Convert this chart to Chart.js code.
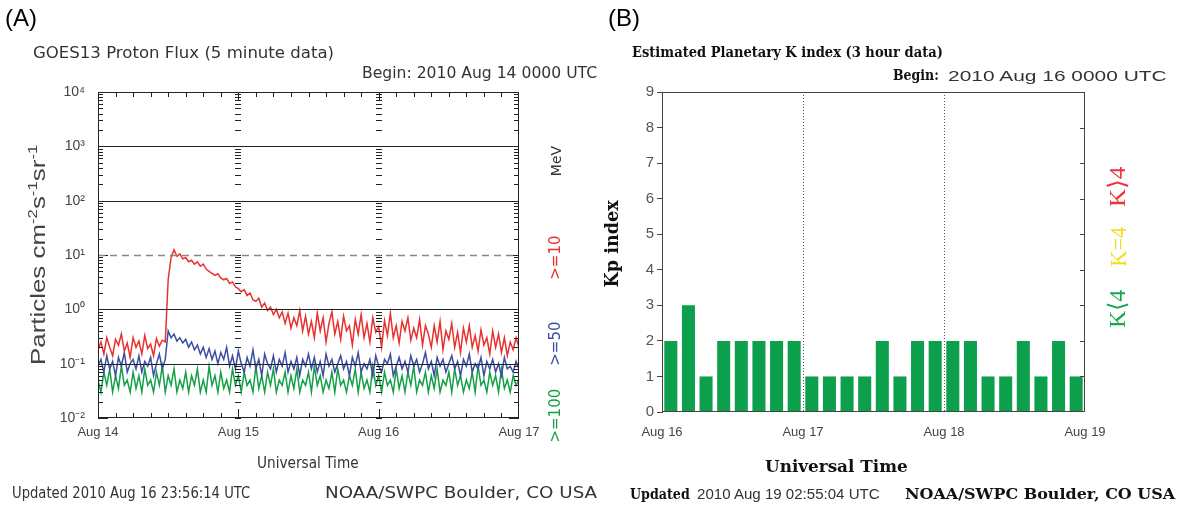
<!DOCTYPE html>
<html>
<head>
<meta charset="utf-8">
<script src="https://cdn.jsdelivr.net/npm/chart.js@4.4.1/dist/chart.umd.min.js"></script>
<style>
  body { margin: 0; background: #fff; width: 1178px; height: 511px; overflow: hidden; position: relative; }
  .box { position: absolute; top: 0; height: 511px; }
  .t { position: absolute; white-space: nowrap; line-height: 1.15; color: #333; font-family: "DejaVu Sans", sans-serif; }
  .serif { font-family: "DejaVu Serif", serif; font-weight: bold; color: #111; }
  .sans { font-family: "Liberation Sans", sans-serif; color: #333; }
  .k { font-family: "Liberation Serif", serif; font-size: 24px; }
</style>
</head>
<body>
<div class="box" style="left:0;width:600px"><canvas id="ca"></canvas></div>
<div class="box" style="left:600px;width:578px"><canvas id="cb"></canvas></div>

<!-- panel A texts -->
<div class="t sans" style="font-size:24px;color:#000" data-x="5" data-y="18" data-a="l">(A)</div>
<div class="t" style="font-size:16px" data-x="33" data-y="53" data-a="l" data-w="301">GOES13 Proton Flux (5 minute data)</div>
<div class="t" style="font-size:15px" data-x="597" data-y="73" data-a="r" data-w="235">Begin: 2010 Aug 14 0000 UTC</div>
<div class="t sans" style="font-size:20px;color:#444" data-x="38" data-y="255" data-rot="1" data-w="220">Particles cm<sup style="font-size:0.65em">-2</sup>s<sup style="font-size:0.65em">-1</sup>sr<sup style="font-size:0.65em">-1</sup></div>
<div class="t" style="font-size:15px" data-x="308" data-y="463" data-a="c" data-w="102">Universal Time</div>
<div class="t" style="font-size:15px" data-x="12" data-y="493" data-a="l" data-w="238">Updated 2010 Aug 16 23:56:14 UTC</div>
<div class="t" style="font-size:15px" data-x="325" data-y="493" data-a="l" data-w="272">NOAA/SWPC Boulder, CO USA</div>
<div class="t" style="font-size:14px;color:#333" data-x="556" data-y="161" data-rot="1">MeV</div>
<div class="t" style="font-size:15px;color:#e8312e" data-x="556" data-y="257" data-rot="1">&gt;=10</div>
<div class="t" style="font-size:15px;color:#3c4ea3" data-x="556" data-y="343" data-rot="1">&gt;=50</div>
<div class="t" style="font-size:15px;color:#14a046" data-x="556" data-y="415" data-rot="1">&gt;=100</div>

<!-- panel B texts -->
<div class="t sans" style="font-size:24px;color:#000" data-x="608" data-y="18" data-a="l">(B)</div>
<div class="t serif" style="font-size:14px" data-x="632" data-y="52" data-a="l" data-w="311">Estimated Planetary K index (3 hour data)</div>
<div class="t serif" style="font-size:15px" data-x="893" data-y="75" data-a="l" data-w="46">Begin:</div>
<div class="t sans" style="font-size:15px" data-x="948" data-y="75" data-a="l" data-w="219">2010 Aug 16 0000 UTC</div>
<div class="t serif" style="font-size:19px" data-x="612" data-y="244" data-rot="1" data-w="87">Kp index</div>
<div class="t serif" style="font-size:16px" data-x="836" data-y="467" data-a="c" data-w="143">Universal Time</div>
<div class="t serif" style="font-size:15px" data-x="630" data-y="494" data-a="l" data-w="60">Updated</div>
<div class="t sans" style="font-size:14px" data-x="697" data-y="494" data-a="l" data-w="183">2010 Aug 19 02:55:04 UTC</div>
<div class="t serif" style="font-size:14px" data-x="905" data-y="494" data-a="l" data-w="270">NOAA/SWPC Boulder, CO USA</div>
<div class="t k" style="color:#e8343a" data-x="1118" data-y="187" data-rot="1" data-w="40">K⟩4</div>
<div class="t k" style="color:#f2e01c" data-x="1118" data-y="247" data-rot="1" data-w="40">K=4</div>
<div class="t k" style="color:#1aa64b" data-x="1118" data-y="309" data-rot="1" data-w="38">K⟨4</div>

<script>
// ---- panel A: GOES13 proton flux, values every 30 minutes ----
const dayLabelsA = ['Aug 14', 'Aug 15', 'Aug 16', 'Aug 17'];
const fluxTickLabels = ['10⁻²', '10⁻¹', '10⁰', '10¹', '10²', '10³', '10⁴'];
const protonHours = Array.from({ length: 145 }, (_, i) => i * 0.5); // sample times, hours after Aug 14 00 UTC

const flux10 = [
  0.18, 0.25, 0.15, 0.3, 0.2, 0.14, 0.28, 0.22, 0.35, 0.17, 0.24, 0.13,
  0.3, 0.2, 0.26, 0.15, 0.33, 0.19, 0.23, 0.14, 0.29, 0.21, 0.27, 0.25,
  3.5, 9, 12.5, 9.5, 10.5, 8.5, 9, 7.5, 8, 6.8, 7.5, 6.2,
  6.8, 5.5, 5.0, 4.6, 4.2, 4.5, 3.8, 3.5, 3.7, 3.0, 3.2, 2.6,
  2.4, 2.1, 2.3, 1.8, 2.0, 1.5, 1.4, 1.6, 1.1, 1.3, 0.95, 1.1,
  0.8, 1.0, 0.7, 0.9, 0.55, 0.85, 0.45, 0.7, 0.5, 0.95, 0.4, 0.75,
  0.35, 0.6, 0.3, 0.85, 0.4, 0.7, 0.25, 0.55, 0.9, 0.35, 0.6, 0.28,
  0.75, 0.4, 0.5, 0.22, 0.65, 0.35, 0.8, 0.3, 0.55, 0.25, 0.7, 0.38,
  0.48, 0.2, 0.62, 0.33, 0.85, 0.3, 0.5, 0.24, 0.6, 0.4, 0.7, 0.27,
  0.45, 0.3, 0.65, 0.22, 0.5, 0.35, 0.2, 0.5, 0.25, 0.6, 0.18, 0.4,
  0.28, 0.55, 0.2, 0.38, 0.16, 0.45, 0.25, 0.5, 0.2, 0.33, 0.17, 0.42,
  0.22, 0.3, 0.15, 0.4, 0.2, 0.35, 0.16, 0.3, 0.14, 0.25, 0.18, 0.3,
  0.2
];
const flux50 = [
  0.09, 0.12, 0.07, 0.14, 0.08, 0.11, 0.06, 0.13, 0.09, 0.16, 0.07, 0.1,
  0.12, 0.08, 0.14, 0.07, 0.11, 0.09, 0.13, 0.06, 0.1, 0.15, 0.08, 0.12,
  0.4, 0.3, 0.35, 0.26, 0.3, 0.24, 0.28, 0.2, 0.25, 0.18, 0.22, 0.15,
  0.2, 0.13, 0.19, 0.12, 0.17, 0.1, 0.16, 0.12, 0.2, 0.09, 0.14, 0.08,
  0.17, 0.1, 0.07, 0.13, 0.09, 0.18, 0.08, 0.12, 0.06, 0.15, 0.1, 0.08,
  0.14, 0.07, 0.12, 0.09, 0.16, 0.07, 0.11, 0.08, 0.13, 0.06, 0.12, 0.09,
  0.15, 0.08, 0.13, 0.07, 0.11, 0.06, 0.15, 0.09, 0.12, 0.07, 0.1, 0.14,
  0.08, 0.11, 0.06, 0.13, 0.09, 0.16, 0.07, 0.1, 0.08, 0.12, 0.06, 0.14,
  0.09, 0.07, 0.12, 0.1, 0.15, 0.06, 0.09, 0.13, 0.08, 0.11, 0.07, 0.14,
  0.09, 0.12, 0.07, 0.1, 0.16, 0.08, 0.11, 0.06, 0.13, 0.09, 0.12, 0.07,
  0.1, 0.14, 0.08, 0.11, 0.06, 0.12, 0.09, 0.15, 0.07, 0.1, 0.08, 0.13,
  0.06, 0.11, 0.08, 0.12, 0.07, 0.1, 0.06, 0.13, 0.08, 0.09, 0.07, 0.11,
  0.08
];
const flux100 = [
  0.05, 0.03, 0.07, 0.04, 0.08, 0.03, 0.06, 0.035, 0.09, 0.04, 0.05, 0.03,
  0.07, 0.035, 0.06, 0.03, 0.08, 0.04, 0.05, 0.03, 0.07, 0.04, 0.09, 0.03,
  0.06, 0.04, 0.08, 0.03, 0.05, 0.035, 0.07, 0.03, 0.06, 0.04, 0.08, 0.03,
  0.05, 0.03, 0.09, 0.04, 0.06, 0.03, 0.07, 0.035, 0.05, 0.03, 0.08, 0.04,
  0.06, 0.03, 0.07, 0.04, 0.05, 0.03, 0.09, 0.035, 0.06, 0.03, 0.07, 0.04,
  0.08, 0.03, 0.05, 0.04, 0.07, 0.03, 0.06, 0.035, 0.08, 0.03, 0.05, 0.04,
  0.07, 0.03, 0.09, 0.04, 0.06, 0.03, 0.05, 0.035, 0.07, 0.03, 0.08, 0.04,
  0.05, 0.03, 0.06, 0.04, 0.08, 0.03, 0.07, 0.035, 0.05, 0.03, 0.09, 0.04,
  0.06, 0.03, 0.07, 0.04, 0.05, 0.03, 0.08, 0.035, 0.06, 0.03, 0.07, 0.04,
  0.09, 0.03, 0.05, 0.04, 0.07, 0.03, 0.06, 0.035, 0.08, 0.03, 0.05, 0.04,
  0.07, 0.03, 0.08, 0.04, 0.06, 0.03, 0.05, 0.035, 0.07, 0.03, 0.09, 0.04,
  0.05, 0.03, 0.07, 0.04, 0.06, 0.03, 0.08, 0.035, 0.05, 0.03, 0.06, 0.04,
  0.05
];

// ---- panel B: estimated Kp, 3 hour bins from Aug 16 00 UTC ----
const kpSlots = [
  '16 00', '16 03', '16 06', '16 09', '16 12', '16 15', '16 18', '16 21',
  '17 00', '17 03', '17 06', '17 09', '17 12', '17 15', '17 18', '17 21',
  '18 00', '18 03', '18 06', '18 09', '18 12', '18 15', '18 18', '18 21'
];
const kpValues = [2, 3, 1, 2, 2, 2, 2, 2, 1, 1, 1, 1, 2, 1, 2, 2, 2, 2, 1, 1, 2, 1, 2, 1];
const dayLabelsB = ['Aug 16', 'Aug 17', 'Aug 18', 'Aug 19'];

const pairs = (ys) => ys.map((y, i) => ({ x: protonHours[i], y: y }));

function seg(ctx, x1, y1, x2, y2) {
  ctx.beginPath(); ctx.moveTo(x1, y1); ctx.lineTo(x2, y2); ctx.stroke();
}

// frame, minor ticks and reference lines for the flux panel
const frameA = {
  id: 'frameA',
  afterDatasetsDraw(chart) {
    const { ctx, chartArea: a, scales: { x, y } } = chart;
    ctx.save();
    ctx.strokeStyle = '#222';
    ctx.lineWidth = 1;
    const days = [24, 48].map(h => Math.round(x.getPixelForValue(h)));
    for (let d = -2; d < 4; d++) {
      for (let m = 1; m < 10; m++) {
        const py = Math.round(y.getPixelForValue(m * Math.pow(10, d))) + 0.5;
        const len = m === 1 ? 10 : 5;
        seg(ctx, a.left, py, a.left + len, py);
        seg(ctx, a.right - len, py, a.right, py);
        days.forEach(px => seg(ctx, px - 3, py, px + 3, py));
      }
    }
    for (const v of [0.1, 1, 100, 1000]) {
      const py = Math.round(y.getPixelForValue(v)) + 0.5;
      seg(ctx, a.left, py, a.right, py);
    }
    ctx.strokeStyle = '#888';
    ctx.lineWidth = 1.5;
    ctx.setLineDash([7, 5]);
    const p10 = Math.round(y.getPixelForValue(10)) + 0.5;
    seg(ctx, a.left, p10, a.right, p10);
    ctx.setLineDash([]);
    ctx.strokeStyle = '#222';
    ctx.lineWidth = 1;
    for (let h = 3; h < 72; h += 3) {
      const px = Math.round(x.getPixelForValue(h)) + 0.5;
      const len = h % 24 === 0 ? 9 : 5;
      seg(ctx, px, a.bottom, px, a.bottom - len);
      seg(ctx, px, a.top, px, a.top + len);
    }
    ctx.strokeRect(a.left + 0.5, a.top + 0.5, a.right - a.left - 1, a.bottom - a.top - 1);
    ctx.restore();
  }
};

// frame and day separators for the Kp panel
const frameB = {
  id: 'frameB',
  beforeDatasetsDraw(chart) {
    const { ctx, chartArea: a, scales: { xt } } = chart;
    ctx.save();
    ctx.strokeStyle = '#555';
    ctx.lineWidth = 1;
    ctx.setLineDash([1, 2]);
    [24, 48].forEach(h => {
      const px = Math.round(xt.getPixelForValue(h)) + 0.5;
      seg(ctx, px, a.top, px, a.bottom);
    });
    ctx.restore();
  },
  afterDatasetsDraw(chart) {
    const { ctx, chartArea: a, scales: { y } } = chart;
    ctx.save();
    ctx.strokeStyle = '#444';
    ctx.lineWidth = 1;
    for (let k = 1; k < 9; k++) {
      const py = Math.round(y.getPixelForValue(k)) + 0.5;
      seg(ctx, a.right - 5, py, a.right, py);
    }
    ctx.strokeRect(a.left + 0.5, a.top + 0.5, a.right - a.left - 1, a.bottom - a.top - 1);
    ctx.restore();
  }
};

const tickFont = { family: 'Liberation Sans', size: 13 };

new Chart(document.getElementById('ca'), {
  type: 'line',
  data: {
    datasets: [
      { label: '>=10 MeV', data: pairs(flux10), borderColor: '#e8312e' },
      { label: '>=50 MeV', data: pairs(flux50), borderColor: '#3c4ea3' },
      { label: '>=100 MeV', data: pairs(flux100), borderColor: '#14a046' }
    ]
  },
  options: {
    animation: false,
    responsive: true,
    maintainAspectRatio: false,
    layout: { padding: { left: 0, top: 92, right: 81, bottom: 0 } },
    plugins: { legend: { display: false }, tooltip: { enabled: false } },
    elements: { point: { radius: 0 }, line: { borderWidth: 1.5, tension: 0 } },
    scales: {
      x: {
        type: 'linear', min: 0, max: 72,
        afterFit: (s) => { s.height = 93; },
        grid: { display: false, drawTicks: false }, border: { display: false },
        ticks: { stepSize: 24, padding: 7, maxRotation: 0, color: '#444', font: tickFont,
                 callback: (v) => dayLabelsA[v / 24] }
      },
      y: {
        type: 'logarithmic', min: 0.01, max: 10000,
        afterFit: (s) => { s.width = 98; },
        grid: { display: false, drawTicks: false }, border: { display: false },
        ticks: {
          autoSkip: false, padding: 13, color: '#444', font: { family: 'Liberation Sans', size: 14 },
          callback: (v) => {
            const d = Math.log10(v);
            const r = Math.round(d);
            return Math.abs(d - r) < 1e-6 ? fluxTickLabels[r + 2] : '';
          }
        }
      }
    }
  },
  plugins: [frameA]
});

new Chart(document.getElementById('cb'), {
  type: 'bar',
  data: {
    labels: kpSlots,
    datasets: [{ label: 'Kp', data: kpValues, backgroundColor: '#0c9f4c',
                 barPercentage: 0.74, categoryPercentage: 1, xAxisID: 'x', yAxisID: 'y' }]
  },
  options: {
    animation: false,
    responsive: true,
    maintainAspectRatio: false,
    layout: { padding: { left: 0, top: 92, right: 93, bottom: 0 } },
    plugins: { legend: { display: false }, tooltip: { enabled: false } },
    scales: {
      x: { type: 'category', display: false, offset: true },
      xt: {
        type: 'linear', position: 'bottom', min: 0, max: 72, offset: false,
        afterFit: (s) => { s.height = 99; },
        grid: { display: false, drawTicks: false, offset: false }, border: { display: false },
        ticks: { stepSize: 24, padding: 13, maxRotation: 0, color: '#444', font: tickFont,
                 callback: (v) => dayLabelsB[v / 24] }
      },
      y: {
        min: 0, max: 9,
        afterFit: (s) => { s.width = 62; },
        grid: { drawOnChartArea: false, tickLength: 5, color: '#444' },
        border: { display: true, color: '#444' },
        ticks: { stepSize: 1, padding: 3, color: '#555', font: { family: 'Liberation Sans', size: 15 } }
      }
    }
  },
  plugins: [frameB]
});

// place the text labels; data-w stretches a label along its reading direction
document.querySelectorAll('.t').forEach((el) => {
  const rot = el.dataset.rot === '1';
  const nat = el.offsetWidth;
  const h = el.offsetHeight;
  const s = el.dataset.w ? parseFloat(el.dataset.w) / nat : 1;
  const x = parseFloat(el.dataset.x);
  const y = parseFloat(el.dataset.y);
  if (rot) {
    el.style.left = (x - nat / 2) + 'px';
    el.style.top = (y - h / 2) + 'px';
    el.style.transform = 'rotate(-90deg) scaleX(' + s + ')';
    return;
  }
  const w = nat * s;
  const a = el.dataset.a;
  el.style.left = (a === 'r' ? x - w : a === 'c' ? x - w / 2 : x) + 'px';
  el.style.top = (y - h / 2) + 'px';
  el.style.transformOrigin = '0 50%';
  el.style.transform = 'scaleX(' + s + ')';
});
</script>
</body>
</html>
